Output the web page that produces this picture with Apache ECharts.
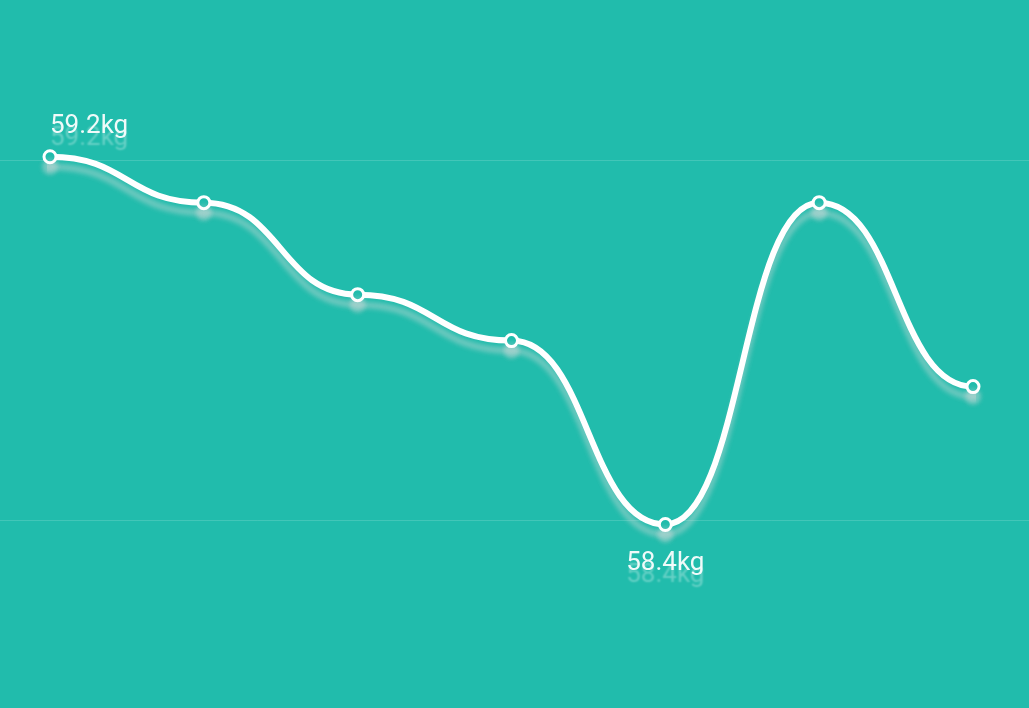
<!DOCTYPE html>
<html>
<head>
<meta charset="utf-8">
<style>
  html, body { margin: 0; padding: 0; background: #21bcac; }
  #chart { width: 1029px; height: 708px; }
</style>
<script src="https://cdn.jsdelivr.net/npm/echarts@6/dist/echarts.min.js"></script>
</head>
<body>
<div id="chart"></div>
<script>
// ---- data ----
const categories = ['1', '2', '3', '4', '5', '6', '7'];
const weights = [59.2, 59.1, 58.9, 58.8, 58.4, 59.1, 58.7];
const unit = 'kg';
const yMin = 58.2;
const yMax = 59.4;

const BG = '#21bcac';
const SHADOW = 'rgba(220,220,220,0.45)';
const maxIdx = weights.indexOf(Math.max.apply(null, weights));
const minIdx = weights.indexOf(Math.min.apply(null, weights));
const n = weights.length;

const labelBase = {
  show: true,
  color: 'rgba(255,255,255,0.93)',
  fontFamily: 'Roboto',
  fontSize: 26,
  textShadowColor: 'rgba(255,255,255,0.35)',
  textShadowBlur: 2,
  textShadowOffsetY: 12,
  formatter: function (p) { return p.value[1] + unit; }
};

// points on the x index scale; the line is continued flat past both ends
// (outside the clipped plot area) so the ends get a level tangent
const seriesData = [{ value: [-1, weights[0]], symbolSize: 0 }];
weights.forEach(function (v, i) {
  const item = { value: [i, v] };
  if (i === maxIdx) {
    item.label = Object.assign({}, labelBase, { position: 'top', align: i === 0 ? 'left' : 'center', distance: 10 });
  } else if (i === minIdx) {
    item.label = Object.assign({}, labelBase, { position: 'bottom', distance: 18 });
  }
  seriesData.push(item);
});
seriesData.push({ value: [n, weights[n - 1]], symbolSize: 0 });

// plot area: 0.8 kg spans 367.8 px, max value sits at y = 156.7
const pxPerKg = 367.8 / 0.8;
const gridTop = 156.7 - (yMax - 59.2) * pxPerKg;
const gridBottom = 708 - (156.7 + (59.2 - yMin) * pxPerKg);

const chart = echarts.init(document.getElementById('chart'), null, { renderer: 'canvas' });
chart.setOption({
  backgroundColor: BG,
  animation: false,
  grid: [
    { left: 50, right: 56, top: gridTop, bottom: gridBottom },
    { left: 0, right: 0, top: 160, bottom: 188 }
  ],
  xAxis: [
    { type: 'value', min: 0, max: n - 1, show: false, gridIndex: 0 },
    { type: 'value', show: false, gridIndex: 1, min: 0, max: 1 }
  ],
  yAxis: [
    { type: 'value', min: yMin, max: yMax, show: false, gridIndex: 0 },
    {
      type: 'value', gridIndex: 1, min: 0, max: 1, interval: 1,
      axisLine: { show: false }, axisTick: { show: false }, axisLabel: { show: false },
      splitLine: { show: true, lineStyle: { color: 'rgba(255,255,255,0.15)', width: 1 } }
    }
  ],
  series: [{
    type: 'line',
    name: 'weight',
    xAxisIndex: 0,
    yAxisIndex: 0,
    data: seriesData,
    smooth: 0.5,
    smoothMonotone: 'x',
    clip: true,
    symbol: 'circle',
    symbolSize: 12,
    lineStyle: {
      color: '#ffffff',
      width: 6,
      shadowColor: SHADOW,
      shadowBlur: 5,
      shadowOffsetY: 10
    },
    itemStyle: {
      color: BG,
      borderColor: '#ffffff',
      borderWidth: 3,
      shadowColor: SHADOW,
      shadowBlur: 5,
      shadowOffsetY: 10
    },
    label: { show: false }
  }]
});
</script>
</body>
</html>
